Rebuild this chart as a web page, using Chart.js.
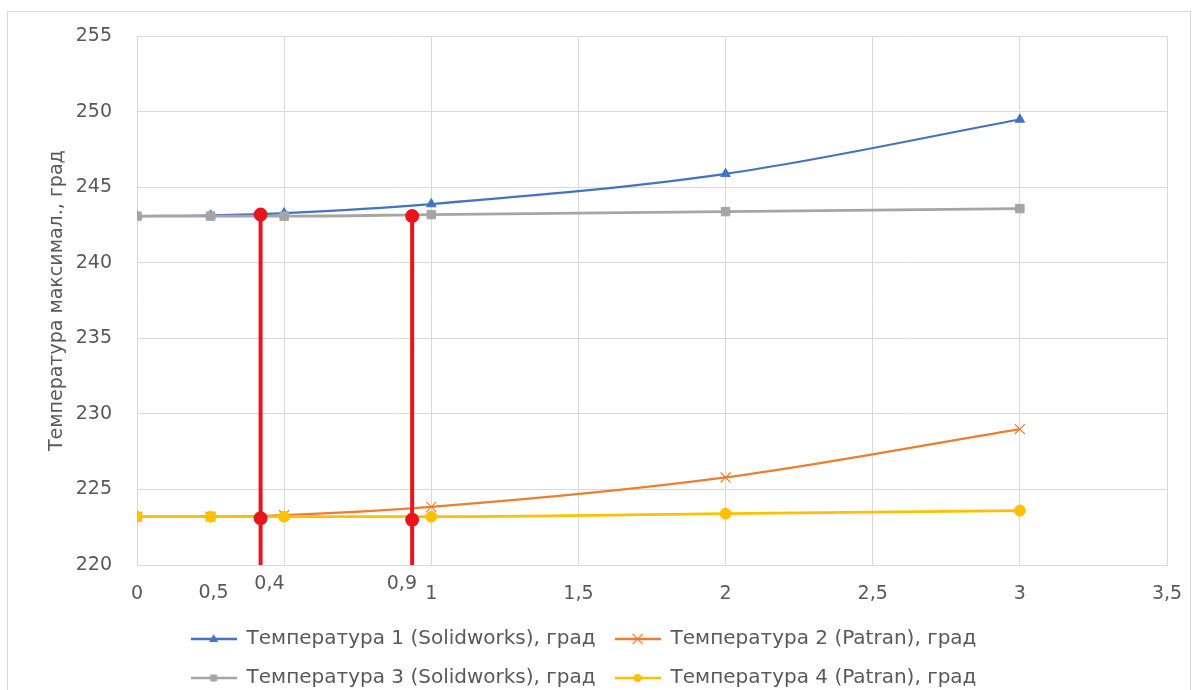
<!DOCTYPE html>
<html><head><meta charset="utf-8">
<script src="https://cdn.jsdelivr.net/npm/chart.js@4.4.1/dist/chart.umd.min.js"></script>
<style>
html,body{margin:0;padding:0;background:#fff;overflow:hidden;}
#wrap{position:absolute;left:0;top:0;width:1194px;height:690px;}
#frame{position:absolute;left:7px;top:11px;width:1184px;height:700px;border:1px solid #d9d9d9;box-sizing:border-box;pointer-events:none;}
</style></head><body>
<div id="wrap"><canvas id="c"></canvas></div>
<div id="frame"></div>
<script>
// ---- data ----
const xValues = [0, 0.25, 0.5, 1, 2, 3];
const temp1 = [243.1, 243.15, 243.3, 243.9, 245.9, 249.5];
const temp2 = [223.2, 223.2, 223.3, 223.85, 225.8, 229.0];
const temp3 = [243.1, 243.1, 243.1, 243.2, 243.4, 243.6];
const temp4 = [223.2, 223.2, 223.2, 223.2, 223.4, 223.6];
const seriesNames = [
  'Температура 1 (Solidworks), град',
  'Температура 2 (Patran), град',
  'Температура 3 (Solidworks), град',
  'Температура 4 (Patran), град'
];
const markX = [0.42, 0.935];
const markTop = [243.2, 243.1];
const markBottom = [223.1, 223.0];
const xTickValues = [0, 0.5, 1, 1.5, 2, 2.5, 3, 3.5];
const xTickLabels = ['0', '', '1', '1,5', '2', '2,5', '3', '3,5'];
const extraLabels = ['0,5', '0,4', '0,9'];
const extraLabelX = [0.26, 0.45, 0.90];
const yTitle = 'Температура максимал., град';

const FONT = 'DejaVu Sans';
const TXT = '#595959';
const colors = ['#4472c4', '#ed7d31', '#a5a5a5', '#ffc000'];
const styles = ['triangle', 'crossRot', 'rect', 'circle'];
const seriesVals = [temp1, temp2, temp3, temp4];

function pts(vals){ return xValues.map((x,i)=>({x:x, y:vals[i]})); }

function legendImg(color, style){
  const c = document.createElement('canvas');
  c.width = 46; c.height = 14;
  const g = c.getContext('2d');
  g.strokeStyle = color; g.lineWidth = 2.5;
  g.beginPath(); g.moveTo(0,7); g.lineTo(46,7); g.stroke();
  g.fillStyle = color;
  if (style === 'triangle'){ g.beginPath(); g.moveTo(23,2); g.lineTo(27.5,10); g.lineTo(18.5,10); g.closePath(); g.fill(); }
  else if (style === 'rect'){ g.fillRect(19.5,3.5,7,7); }
  else if (style === 'circle'){ g.beginPath(); g.arc(23,7,4,0,Math.PI*2); g.fill(); }
  else { g.lineWidth = 1.3; g.beginPath(); g.moveTo(18,2); g.lineTo(28,12); g.moveTo(28,2); g.lineTo(18,12); g.stroke(); }
  return c;
}

const datasets = seriesVals.map((vals,i)=>({
  label: seriesNames[i],
  data: pts(vals),
  borderColor: colors[i],
  backgroundColor: colors[i],
  borderWidth: (i===0||i===1) ? 2.2 : 2.8,
  pointStyle: styles[i],
  pointRadius: styles[i]==='crossRot' ? 7 : (styles[i]==='rect' ? 6 : 5.5),
  pointBorderWidth: styles[i]==='crossRot' ? 1.2 : 1,
  tension: (i===0||i===1) ? 0.4 : 0,
  cubicInterpolationMode: 'monotone',
  order: 4 - i + 1
}));
markX.forEach((mx,k)=>{
  datasets.push({
    label: 'marker' + k,
    data: [{x:mx, y:markTop[k]}, {x:mx, y:markBottom[k]}, {x:mx, y:220}],
    borderColor: '#e8141e', backgroundColor: '#e8141e',
    borderWidth: 4, pointRadius: [5,5,0], pointStyle: 'circle',
    tension: 0, order: 0
  });
});

const extraLabelPlugin = {
  id: 'extraLabels',
  afterDraw(chart){
    const ctx = chart.ctx, xs = chart.scales.x, b = chart.chartArea.bottom;
    ctx.save();
    ctx.font = '19px "' + FONT + '"';
    ctx.fillStyle = TXT; ctx.textAlign = 'center'; ctx.textBaseline = 'middle';
    extraLabels.forEach((t,i)=>{
      const off = i === 0 ? 28 : 19;
      ctx.fillText(t, xs.getPixelForValue(extraLabelX[i]), b + off);
    });
    ctx.restore();
  }
};

new Chart(document.getElementById('c'), {
  type: 'line',
  data: { datasets },
  plugins: [extraLabelPlugin],
  options: {
    responsive: true, maintainAspectRatio: false, animation: false,
    layout: { padding: { left: 0, right: 27, top: 35, bottom: -8 } },
    plugins: {
      tooltip: { enabled: false },
      legend: {
        position: 'bottom',
        maxWidth: 900,
        labels: {
          usePointStyle: true,
          pointStyleWidth: 46,
          padding: 19,
          color: TXT,
          font: { family: FONT, size: 20 },
          generateLabels(chart){
            return seriesNames.map((n,i)=>({
              text: n, datasetIndex: i, hidden: false, fontColor: TXT,
              pointStyle: legendImg(colors[i], styles[i]), lineWidth: 0
            }));
          }
        }
      }
    },
    scales: {
      x: {
        type: 'linear', min: 0, max: 3.5,
        afterBuildTicks(s){ s.ticks = xTickValues.map(v=>({value:v})); },
        afterFit(s){ s.height = 45; s.paddingRight = 0; s.paddingLeft = 0; },
        ticks: {
          padding: 18, color: TXT, font: { family: FONT, size: 19 },
          maxRotation: 0, autoSkip: false,
          callback(v){ const i = xTickValues.indexOf(v); return i >= 0 ? xTickLabels[i] : ''; }
        },
        grid: { color: '#d9d9d9', lineWidth: 1, drawTicks: false },
        border: { color: '#d9d9d9' }
      },
      y: {
        min: 220, max: 255,
        afterFit(s){ s.width = 137; },
        ticks: { stepSize: 5, padding: 25, color: TXT, font: { family: FONT, size: 19 } },
        grid: { color: '#d9d9d9', lineWidth: 1, drawTicks: false },
        border: { display: false },
        title: { display: true, text: yTitle, color: TXT, font: { family: FONT, size: 19 }, padding: { top: 46, bottom: 0 } }
      }
    }
  }
});
</script>
</body></html>
